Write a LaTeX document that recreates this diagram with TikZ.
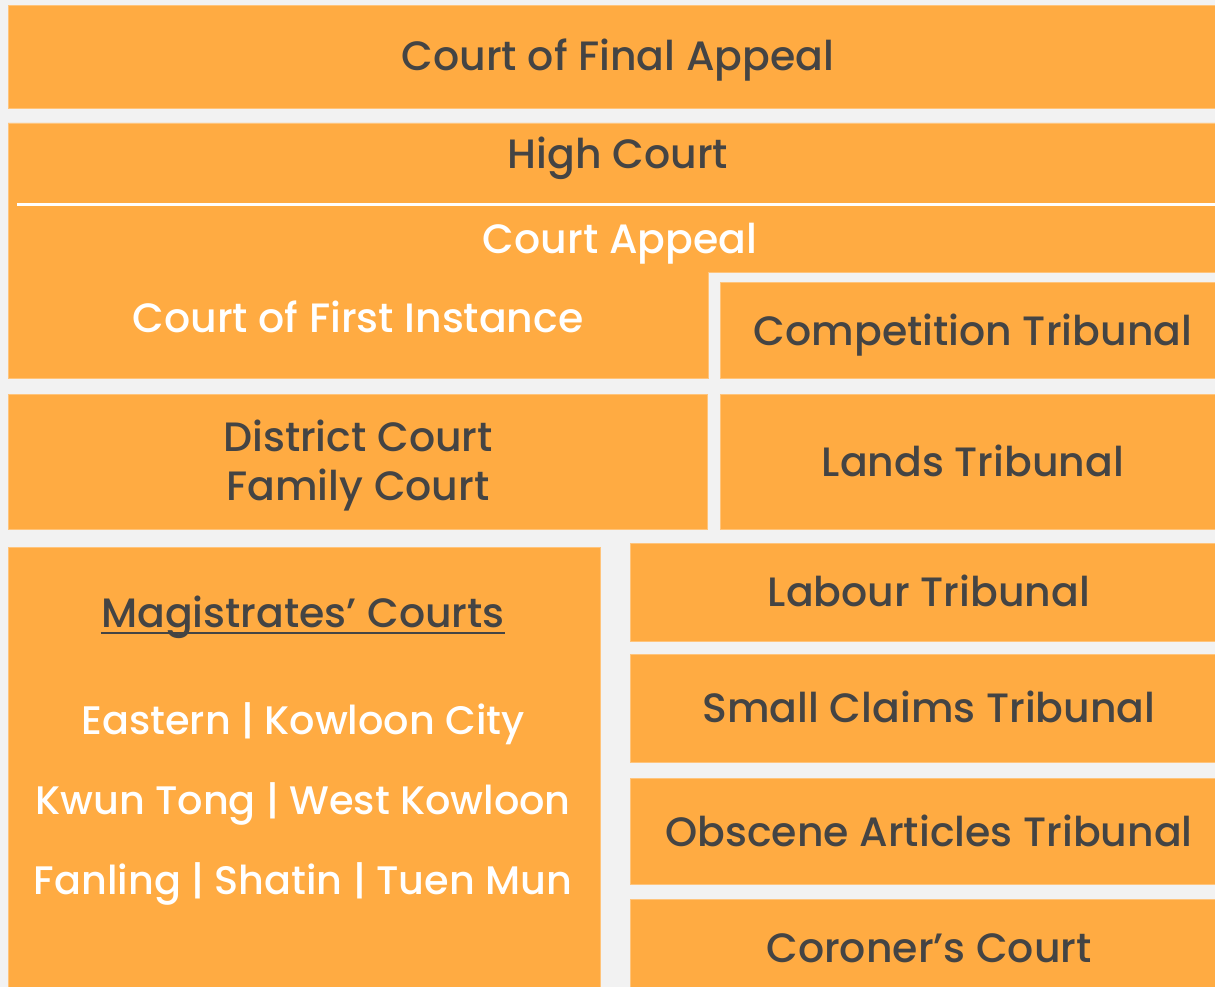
\documentclass[tikz,border=0pt]{standalone}
\usepackage{fontspec}
\setmainfont{Poppins Medium}
\usetikzlibrary{positioning}

\definecolor{courtorange}{HTML}{FFAB42}
\definecolor{pagegray}{HTML}{F2F2F2}
\definecolor{inkgray}{HTML}{444444}

\tikzset{
  court/.style={fill=courtorange, draw=courtorange!70!white, line width=0.6},
  label/.style={inner sep=0, anchor=base, font=\fontsize{41}{48}\selectfont},
  darklabel/.style={label, text=inkgray},
  lightlabel/.style={label, text=white},
  placelabel/.style={lightlabel, font=\fontsize{39.8}{48}\selectfont},
}

\begin{document}
\begin{tikzpicture}[x=1pt, y=-1pt]

    % page background, same size as the reference
    \fill[pagegray] (0,0) rectangle (1215,987);
    \useasboundingbox (0,0) rectangle (1215,987);

    % top court
    \filldraw[court] (8,5) rectangle (1215,108);
    \node[darklabel] (cfa) at (618,71) {Court of Final Appeal};

    % high court block, with the first instance part on the left
    \filldraw[court] (8,123) -- (1215,123) -- (1215,272) -- (708,272) -- (708,378) -- (8,378) -- cycle;
    \draw[white, line width=3] (17,204.5) -- (1215,204.5);
    \node[darklabel] (high) at (618,169) {High Court};
    \node[lightlabel] (appeal) at (620,253) {Court Appeal};
    \node[lightlabel] (first) at (358,332) {Court of First Instance};

    % tribunals beside the high court and district court
    \filldraw[court] (720,282) rectangle (1215,378);
    \node[darklabel] (competition) at (973,345) {Competition Tribunal};
    \filldraw[court] (8,394) rectangle (707,529);
    \node[darklabel] (district) at (358,451) {District Court};
    \node[darklabel] (family) at (358,500) {Family Court};
    \filldraw[court] (720,394) rectangle (1215,529);
    \node[darklabel] (lands) at (973,476) {Lands Tribunal};

    % magistrates' courts
    \filldraw[court] (8,547) rectangle (600,990);
    \node[darklabel] (magistrates) at (303,627) {Magistrates’ Courts};
    \draw[inkgray, line width=2] ([yshift=-6]magistrates.base west) -- ([yshift=-6]magistrates.base east);
    \node[placelabel] (eastern) at (303,734) {Eastern | Kowloon City};
    \node[placelabel] (kwuntong) at (303,814) {Kwun Tong | West Kowloon};
    \node[placelabel] (fanling) at (303,894) {Fanling | Shatin | Tuen Mun};

    % lower tribunals
    \filldraw[court] (630,543) rectangle (1215,641);
    \node[darklabel] (labour) at (929,606) {Labour Tribunal};
    \filldraw[court] (630,654) rectangle (1215,762);
    \node[darklabel] (smallclaims) at (929,722) {Small Claims Tribunal};
    \filldraw[court] (630,778) rectangle (1215,884);
    \node[darklabel] (obscene) at (929,846) {Obscene Articles Tribunal};
    \filldraw[court] (630,899) rectangle (1215,990);
    \node[darklabel] (coroner) at (929,962) {Coroner’s Court};

\end{tikzpicture}
\end{document}
